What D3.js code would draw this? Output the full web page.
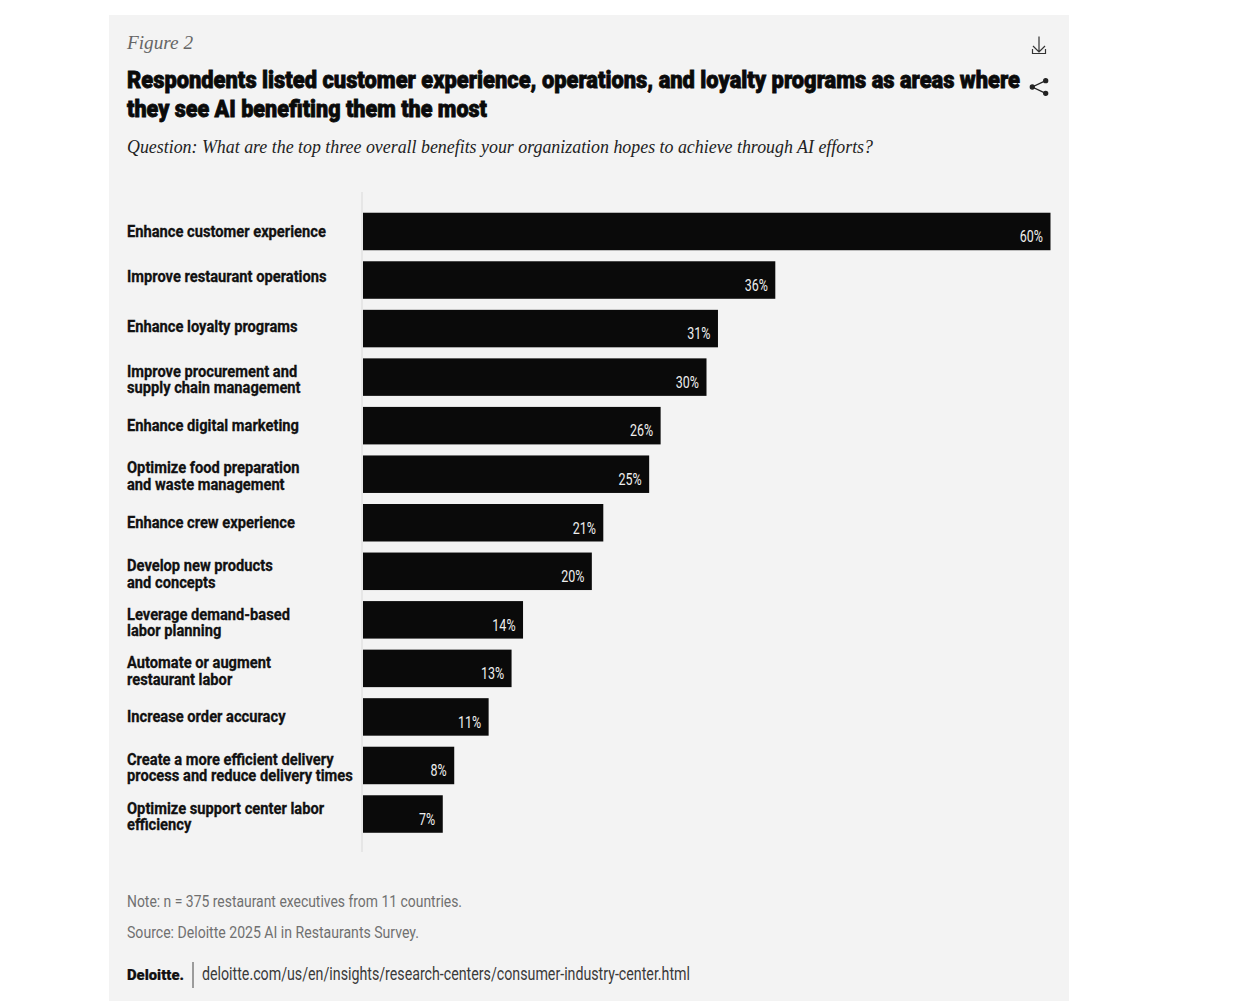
<!DOCTYPE html>
<html><head><meta charset="utf-8">
<script src="https://cdn.jsdelivr.net/npm/d3@7"></script>
<style>
html,body{margin:0;padding:0;background:#fff}
svg{display:block}
.narrow{font-family:"Roboto","Liberation Sans",sans-serif}
.serif{font-family:"Liberation Serif",serif;font-style:italic}
</style></head><body>
<div id="chart"></div>
<script>
const categories=["Enhance customer experience","Improve restaurant operations","Enhance loyalty programs","Improve procurement and\nsupply chain management","Enhance digital marketing","Optimize food preparation\nand waste management","Enhance crew experience","Develop new products\nand concepts","Leverage demand-based\nlabor planning","Automate or augment\nrestaurant labor","Increase order accuracy","Create a more efficient delivery\nprocess and reduce delivery times","Optimize support center labor\nefficiency"];
const values=[60,36,31,30,26,25,21,20,14,13,11,8,7];
const figureLabel="Figure 2";
const titleLines=["Respondents listed customer experience, operations, and loyalty programs as areas where","they see AI benefiting them the most"];
const question="Question: What are the top three overall benefits your organization hopes to achieve through AI efforts?";
const note="Note: n = 375 restaurant executives from 11 countries.";
const source="Source: Deloitte 2025 AI in Restaurants Survey.";
const brand="Deloitte.";
const url="deloitte.com/us/en/insights/research-centers/consumer-industry-center.html";

const svg=d3.select("#chart").append("svg").attr("width",1247).attr("height",1005);
svg.append("rect").attr("x",109).attr("y",15).attr("width",960).attr("height",986).attr("fill","#f3f3f3");

const x=d3.scaleLinear().domain([0,60]).range([363,1051]);
const y=d3.scaleBand().domain(categories).range([207.2,838.3]).paddingInner(.2276).paddingOuter(.114);

function squeeze(t,k){
  const n=t.node().getComputedTextLength();
  t.attr("textLength",n*k).attr("lengthAdjust","spacingAndGlyphs");
  return t;
}
function txt(s,px,py,size,fill,cls,w,weight,stroke){
  const t=svg.append("text").attr("x",px).attr("y",py).attr("font-size",size).attr("fill",fill).attr("class",cls).text(s);
  if(weight)t.attr("font-weight",weight);
  if(w){t.attr("textLength",w).attr("lengthAdjust","spacingAndGlyphs");}
  if(stroke)t.attr("stroke",fill).attr("stroke-width",stroke);
  return t;
}
txt(figureLabel,127,49,19,"#666","serif",66);
txt(titleLines[0],127,88,24,"#0a0a0a","narrow",893,900,.8);
txt(titleLines[1],127,117,24,"#0a0a0a","narrow",360,900,.8);
txt(question,127,153,19.5,"#222","serif",746);

svg.append("line").attr("x1",362).attr("x2",362).attr("y1",192).attr("y2",852).attr("stroke","#d9d9d9").attr("stroke-width",1);

const labelNudge=[0,-3.5,-2.5,2.5,0,1.5,0,2.5,2.5,2.5,0,2,2.5];
const rows=svg.append("g").selectAll("g").data(categories).join("g");
rows.append("rect").attr("x",x(0)).attr("y",d=>y(d)).attr("width",(d,i)=>x(values[i])-x(0)-.5).attr("height",y.bandwidth()).attr("fill","#0a0a0a");
rows.each(function(d,i){
  const g=d3.select(this);
  squeeze(g.append("text").attr("class","narrow").attr("x",x(values[i])-8).attr("y",y(d)+y.bandwidth()/2+10.8)
    .attr("text-anchor","end").attr("font-size",16).attr("fill","#eee").text(values[i]+"%"),.78);
  const lines=d.split("\n"),c=y(d)+y.bandwidth()/2+labelNudge[i];
  lines.forEach((l,k)=>{
    squeeze(g.append("text").attr("class","narrow").attr("x",127)
     .attr("y",c+5.5+(k-(lines.length-1)/2)*16.6)
     .attr("font-size",16.6).attr("font-weight",700).attr("fill","#111").attr("stroke","#111").attr("stroke-width",.3).text(l),.885);
  });
});

txt(note,127,907,17,"#707070","narrow",335,400);
txt(source,127,938,17,"#707070","narrow",292,400);
txt(brand,127,979.5,15,"#111","narrow",57,900,.2);
svg.append("line").attr("x1",193).attr("x2",193).attr("y1",962).attr("y2",988).attr("stroke","#444").attr("stroke-width",1);
txt(url,202,980,17.5,"#3a3a3a","narrow",488,400);

const ic=svg.append("g").attr("fill","none").attr("stroke","#333").attr("stroke-width",1.2);
ic.append("path").attr("d","M1039 36.5V52M1033 46L1039 52L1045 46M1032.5 49V53.5H1045.5V49");
const sh=svg.append("g").attr("fill","#222").attr("stroke","#222").attr("stroke-width",1.3);
sh.append("path").attr("fill","none").attr("d","M1045.7 80.7L1032.3 87L1045.7 93.3");
[[1045.7,80.7],[1032.3,87],[1045.7,93.3]].forEach(p=>sh.append("circle").attr("cx",p[0]).attr("cy",p[1]).attr("r",2));
</script>
</body></html>
